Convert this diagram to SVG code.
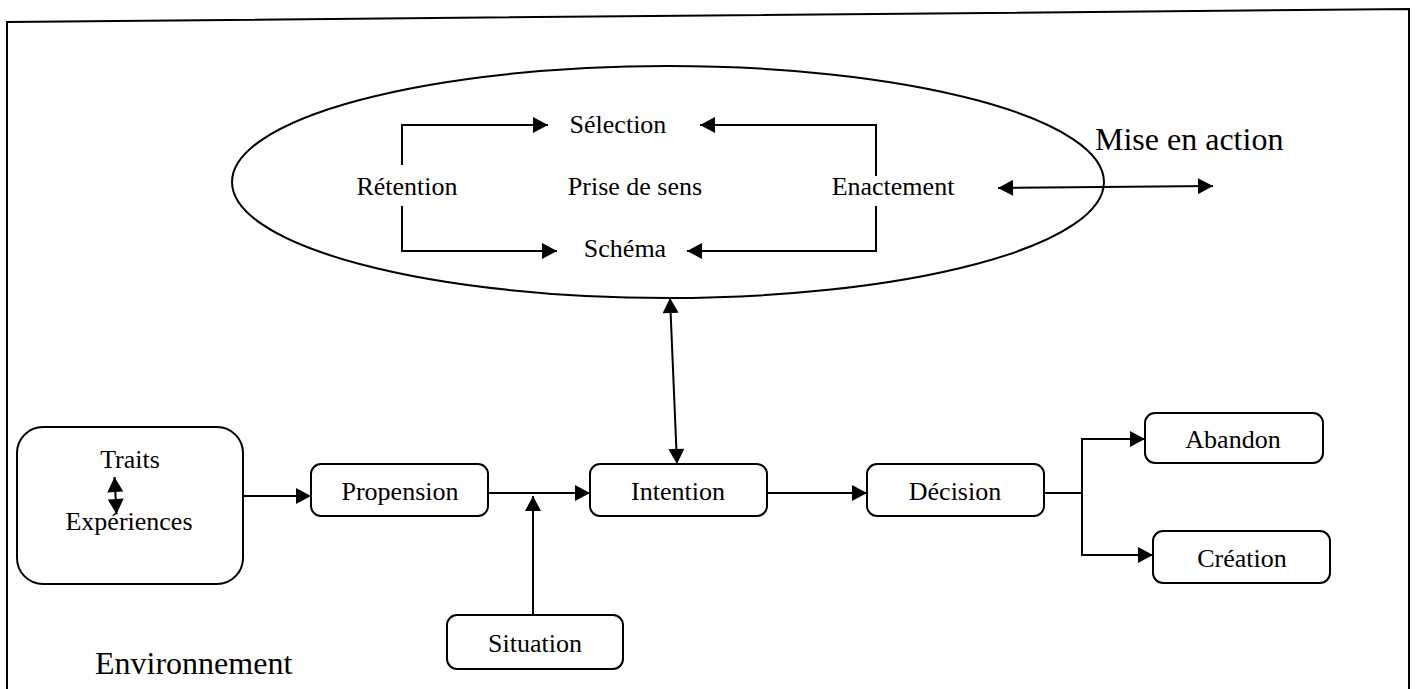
<svg xmlns="http://www.w3.org/2000/svg" width="1417" height="689" viewBox="0 0 1417 689">
  <style>
    .ln { fill: none; stroke: #000; stroke-width: 2; }
    .box { fill: #fff; stroke: #000; stroke-width: 2; }
    .t { font-family: "Liberation Serif", "Times New Roman", serif; font-size: 26px; fill: #000; text-anchor: middle; }
    .big { font-family: "Liberation Serif", "Times New Roman", serif; font-size: 32px; fill: #000; }
    .arr { marker-end: url(#head); }
    .dbl { marker-start: url(#head); marker-end: url(#head); }
  </style>
  <defs>
    <marker id="head" markerUnits="userSpaceOnUse" markerWidth="16" markerHeight="16" viewBox="0 0 15 16" refX="15" refY="8" orient="auto-start-reverse">
      <path d="M0,0 L15,8 L0,16 z" fill="#000"/>
    </marker>
  </defs>

  <rect width="1417" height="689" fill="#fff"/>

  <!-- outer frame (open at the bottom) -->
  <g id="frame">
    <path class="ln" d="M7,689 L7,22 L1409,9 L1409,689"/>
  </g>

  <!-- sensemaking ellipse -->
  <g id="prise-de-sens">
    <ellipse cx="668" cy="182" rx="436" ry="116" class="ln"/>
    <text class="t" x="635" y="195">Prise de sens</text>
  </g>
  <g id="selection"><text class="t" x="618" y="133">Sélection</text></g>
  <g id="schema"><text class="t" x="625" y="257">Schéma</text></g>
  <g id="retention"><text class="t" x="407" y="195">Rétention</text></g>
  <g id="enactement"><text class="t" x="893" y="195">Enactement</text></g>
  <g id="mise-en-action"><text class="big" x="1095" y="150">Mise en action</text></g>

  <!-- nodes of the lower chain -->
  <g id="traits-experiences">
    <rect class="box" x="17" y="427" width="226" height="157" rx="26" ry="26"/>
    <text class="t" x="130" y="468">Traits</text>
    <text class="t" x="129" y="530">Expériences</text>
  </g>
  <g id="propension">
    <rect class="box" x="311" y="464" width="177" height="52" rx="10" ry="10"/>
    <text class="t" x="400" y="500">Propension</text>
  </g>
  <g id="intention">
    <rect class="box" x="590" y="464" width="177" height="52" rx="10" ry="10"/>
    <text class="t" x="678" y="500">Intention</text>
  </g>
  <g id="decision">
    <rect class="box" x="867" y="464" width="177" height="52" rx="10" ry="10"/>
    <text class="t" x="955" y="500">Décision</text>
  </g>
  <g id="abandon">
    <rect class="box" x="1145" y="413" width="178" height="50" rx="10" ry="10"/>
    <text class="t" x="1233" y="448">Abandon</text>
  </g>
  <g id="creation">
    <rect class="box" x="1153" y="531" width="177" height="52" rx="10" ry="10"/>
    <text class="t" x="1242" y="567">Création</text>
  </g>
  <g id="situation">
    <rect class="box" x="447" y="615" width="176" height="54" rx="10" ry="10"/>
    <text class="t" x="535" y="652">Situation</text>
  </g>
  <g id="environnement"><text class="big" x="95" y="674">Environnement</text></g>

  <!-- connectors -->
  <g id="connectors">
    <!-- loop inside the ellipse -->
    <path class="ln arr" d="M402,165 L402,125 L548,125"/>
    <path class="ln arr" d="M402,206 L402,251 L557,251"/>
    <path class="ln arr" d="M876,176 L876,125 L700,125"/>
    <path class="ln arr" d="M876,206 L876,251 L687,251"/>
    <!-- enactment / action -->
    <line class="ln dbl" x1="998" y1="188" x2="1213" y2="186"/>
    <!-- ellipse to intention -->
    <line class="ln dbl" x1="670" y1="298" x2="677" y2="464"/>
    <!-- traits / experiences -->
    <line class="ln dbl" x1="114.5" y1="477" x2="116.5" y2="514"/>
    <!-- main chain -->
    <line class="ln arr" x1="243" y1="496" x2="311" y2="496"/>
    <line class="ln arr" x1="488" y1="493" x2="590" y2="493"/>
    <line class="ln arr" x1="533" y1="615" x2="533" y2="496"/>
    <line class="ln arr" x1="767" y1="493" x2="867" y2="493"/>
    <path class="ln" d="M1044,493 L1082,493"/>
    <path class="ln arr" d="M1082,493 L1082,439 L1145,439"/>
    <path class="ln arr" d="M1082,493 L1082,555 L1153,555"/>
  </g>
</svg>
